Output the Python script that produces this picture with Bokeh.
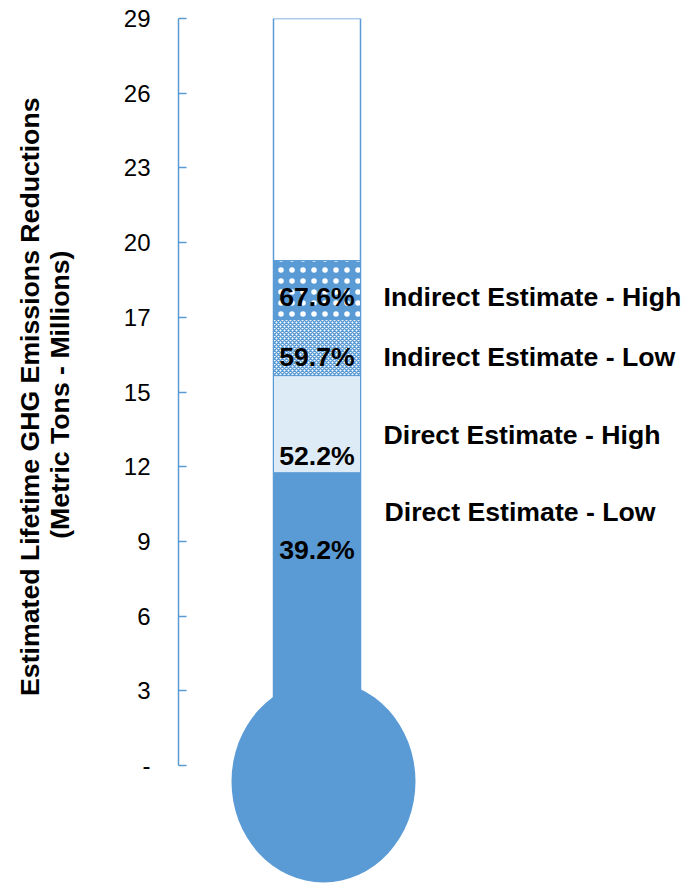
from bokeh.plotting import figure
from bokeh.models import Range1d, FixedTicker, Title
from bokeh.core.properties import value
from bokeh.embed import file_html
from bokeh.resources import INLINE

# ---------------- data ----------------
goal = 29.0  # million metric tons (100 %)
categories = ["Direct Estimate - Low", "Direct Estimate - High",
              "Indirect Estimate - Low", "Indirect Estimate - High"]
percent = [39.2, 52.2, 59.7, 67.6]
tick_labels = ["-", "3", "6", "9", "12", "15", "17", "20", "23", "26", "29"]
y_title_lines = ["Estimated Lifetime GHG Emissions Reductions", "(Metric Tons - Millions)"]

tops = [goal * v / 100.0 for v in percent]
bottoms = [0.0] + tops[:-1]
ticks = [round(goal * i / (len(tick_labels) - 1), 6) for i in range(len(tick_labels))]

# ---------------- layout / style ----------------
BLUE = "#5B9BD5"
FONT = value("Liberation Sans")
BIG = "20pt"
tube_left, tube_right = 95, 182
bulb = dict(x=145, y=-0.62, width=184, height=7.84)
pct_label_y = [8.35, 12.0, 15.84, 18.2]
name_label_x = [206, 205, 205, 205]
name_label_y = [9.86, 12.85, 15.84, 18.17]
title_offsets = [79, 232]      # px from top of frame to end of each title line
title_standoffs = [-4, 0]
seg_styles = [
    dict(fill_color=BLUE),
    dict(fill_color="#DDEBF7"),
    dict(fill_color="white", hatch_pattern="diagonal_cross", hatch_color=BLUE,
         hatch_scale=4, hatch_weight=1.5),
    dict(fill_color=BLUE, hatch_pattern="dot", hatch_color="white",
         hatch_scale=11),
]

p = figure(width=683, height=883, output_backend="svg", toolbar_location=None,
           x_range=Range1d(0, 505), y_range=Range1d(-4.58, goal),
           min_border_left=178, min_border_right=0, min_border_top=18,
           min_border_bottom=0, x_axis_location=None, y_axis_location="left")
p.outline_line_color = None
p.grid.grid_line_color = None
p.background_fill_color = "white"

# tube outline (full goal)
p.quad(left=[tube_left], right=[tube_right], bottom=[0], top=[goal],
       fill_color="white", line_color=BLUE, line_width=1.5)

# stacked segments
for b, t, st in zip(bottoms, tops, seg_styles):
    p.quad(left=[tube_left], right=[tube_right], bottom=[b], top=[t],
           line_color=BLUE, line_width=1, **st)

# bulb
p.ellipse(x=[bulb["x"]], y=[bulb["y"]], width=[bulb["width"]], height=[bulb["height"]],
          fill_color=BLUE, line_color=None)

# percent labels
p.text(x=[(tube_left + tube_right) / 2] * len(percent), y=pct_label_y,
       text=[f"{v:.1f}%" for v in percent], text_font=FONT, text_font_style="bold",
       text_font_size=BIG, text_align="center", text_baseline="middle",
       text_color="black")

# category labels
p.text(x=name_label_x, y=name_label_y, text=categories, text_font=FONT,
       text_font_style="bold", text_font_size=BIG, text_align="left",
       text_baseline="middle", text_color="black")

ax = p.yaxis[0]
ax.ticker = FixedTicker(ticks=ticks)
ax.bounds = (0, goal)
ax.major_label_overrides = dict(zip(ticks, tick_labels))
ax.axis_line_color = BLUE
ax.axis_line_width = 1.5
ax.major_tick_line_color = BLUE
ax.major_tick_line_width = 1.5
ax.major_tick_in = 8
ax.major_tick_out = 0
ax.minor_tick_line_color = None
ax.major_label_standoff = 28
ax.major_label_text_font = "Liberation Sans"
ax.major_label_text_font_size = "18pt"
ax.major_label_text_color = "black"
# blank spacer label: widens the axis panel so the title lines sit further left
ax.axis_label = " "
ax.axis_label_text_font_size = "1px"
ax.axis_label_standoff = 42

# y-axis title: inner line first (closest to the axis), outer line second
for line, off, so in reversed(list(zip(y_title_lines, title_offsets, title_standoffs))):
    p.add_layout(Title(text=line, align="right", offset=off, standoff=so,
                       text_font="Liberation Sans", text_font_style="bold",
                       text_font_size=BIG, text_color="black"), "left")

open("out.html", "w").write(file_html(p, INLINE))
